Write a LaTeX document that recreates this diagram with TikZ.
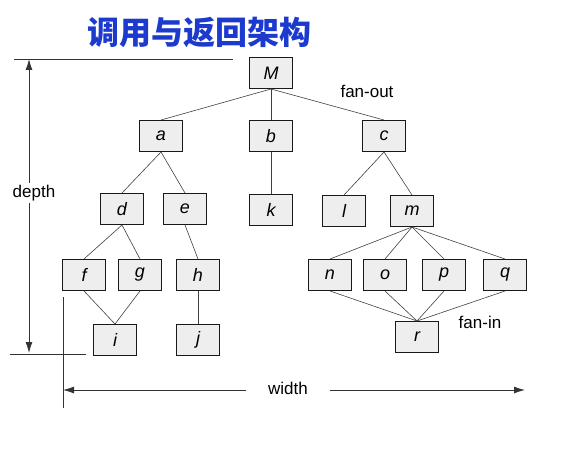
\documentclass[tikz,border=0pt]{standalone}
\usepackage{fontspec}
\setmainfont{Liberation Sans}
\newfontfamily\cjkfont{Noto Sans CJK SC}
\usetikzlibrary{arrows.meta}
\definecolor{titleblue}{RGB}{28,58,205}

\begin{document}
\begin{tikzpicture}[x=1pt, y=-1pt, >={Latex[length=11pt,width=7pt]}]

  % Styles
  \tikzset{
    box/.style={draw=black!90, fill=gray!13, line width=1pt, inner sep=0pt,
      minimum width=43pt, minimum height=31pt, font=\fontsize{18}{20}\selectfont\itshape},
    edge/.style={draw=black!75, line width=0.6pt},
    dim line/.style={draw=black!80, line width=0.8pt},
    dim label/.style={font=\fontsize{17}{20}\selectfont, fill=white, inner sep=1pt}
  }

  \useasboundingbox (0,0) rectangle (570,460);

  % --- TITLE ---
  \node[text=titleblue, font=\cjkfont\bfseries\fontsize{32}{36}\selectfont] (title) at (199,32) {调用与返回架构};

  % --- BOXES ---
  \node[box] (M) at (271,73) {M};

  \node[box] (a) at (161,136) {a};
  \node[box] (b) at (271,136) {b};
  \node[box] (c) at (384,136) {c};

  \node[box] (d) at (122,209) {d};
  \node[box] (e) at (185,209) {e};
  \node[box] (k) at (271,210) {k};
  \node[box] (l) at (344,211) {l};
  \node[box] (m) at (412,211) {m};

  \node[box] (f) at (84,275) {f};
  \node[box] (g) at (140,275) {g};
  \node[box] (h) at (198,275) {h};
  \node[box] (n) at (330,275) {n};
  \node[box] (o) at (385,275) {o};
  \node[box] (p) at (444,275) {p};
  \node[box] (q) at (505,275) {q};

  \node[box] (i) at (115,340) {i};
  \node[box] (j) at (198,340) {j};
  \node[box] (r) at (417,337) {r};

  % --- CALLS ---
  \foreach \u/\v in {M/a, M/b, M/c, a/d, a/e, b/k, c/l, c/m,
                     d/f, d/g, e/h, f/i, g/i, h/j,
                     m/n, m/o, m/p, m/q, n/r, o/r, p/r, q/r}
    \draw[edge] (\u.south) -- (\v.north);

  \node[font=\fontsize{17}{20}\selectfont] (fanout) at (367,91) {fan-out};
  \node[font=\fontsize{17}{20}\selectfont] (fanin) at (480,322) {fan-in};

  % --- DEPTH ---
  \coordinate (topL) at (14,59);
  \coordinate (topR) at (233,59);
  \coordinate (botL) at (10,354);
  \coordinate (botR) at (86,354);
  \coordinate (depthtop) at (29,59);
  \coordinate (depthbot) at (29,353);
  \draw[dim line] (topL) -- (topR);
  \draw[dim line] (botL) -- (botR);
  \draw[dim line, <->] (depthtop) -- (depthbot);
  \node[dim label, inner ysep=2pt] (depth) at (34,193) {depth};

  % --- WIDTH ---
  \coordinate (widthup) at (63,297);
  \coordinate (widthdown) at (63,408);
  \coordinate (widthL) at (63,390);
  \coordinate (widthR) at (525,390);
  \draw[dim line] (widthup) -- (widthdown);
  \draw[dim line, <->] (widthL) -- (widthR);
  \node[dim label, inner xsep=22pt] (width) at (288,388) {width};

\end{tikzpicture}
\end{document}
